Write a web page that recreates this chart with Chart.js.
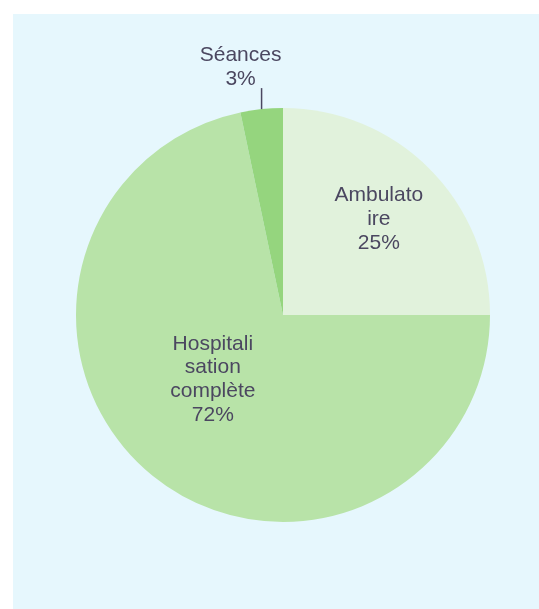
<!DOCTYPE html>
<html>
<head>
<meta charset="utf-8">
<script src="https://cdn.jsdelivr.net/npm/chart.js@4/dist/chart.umd.min.js"></script>
<style>
  html, body { margin: 0; padding: 0; background: #ffffff; }
  #panel {
    position: absolute; left: 13px; top: 14px;
    width: 526px; height: 595px;
    background: #e6f7fd;
  }
  #chart { display: block; }
</style>
</head>
<body>
<div id="panel"><canvas id="chart" width="526" height="595"></canvas></div>
<script>
// Data
const categories = ['Ambulatoire', 'Hospitalisation complète', 'Séances'];
const shares = [25, 71.7, 3.3];
const labelLines = [
  ['Ambulato', 'ire', '25%'],
  ['Hospitali', 'sation', 'complète', '72%'],
  ['Séances', '3%']
];
const sliceColors = ['#e1f2dc', '#b8e3a8', '#95d57e'];
const outsideLabel = [false, false, true];
const labelRadius = [0.655, 0.46, 1.0];
const labelAngleShift = [0, 8.4, 0]; // degrees

const textColor = '#4b4760';
const fontSpec = '21px "Liberation Sans", Arial, sans-serif';
const lineStep = 23.7;

// Draw slice labels, with a leader line for small slices
const sliceLabels = {
  id: 'sliceLabels',
  afterDatasetsDraw(chart) {
    const ctx = chart.ctx;
    const meta = chart.getDatasetMeta(0);
    ctx.save();
    ctx.font = fontSpec;
    ctx.fillStyle = textColor;
    ctx.strokeStyle = textColor;
    ctx.textAlign = 'center';
    ctx.textBaseline = 'middle';
    meta.data.forEach((arc, i) => {
      const mid = (arc.startAngle + arc.endAngle) / 2 + labelAngleShift[i] * Math.PI / 180;
      const lines = labelLines[i];
      if (outsideLabel[i]) {
        const r0 = arc.outerRadius;
        const x0 = arc.x + Math.cos(mid) * r0;
        const y0 = arc.y + Math.sin(mid) * r0;
        const y1 = y0 - 21;
        ctx.lineWidth = 1.5;
        ctx.beginPath();
        ctx.moveTo(x0, y0);
        ctx.lineTo(x0, y1);
        ctx.stroke();
        const tx = x0 - 21;
        const lastY = y1 - 9;
        lines.forEach((t, k) => {
          ctx.fillText(t, tx, lastY - (lines.length - 1 - k) * lineStep);
        });
      } else {
        const r = arc.outerRadius * labelRadius[i];
        const cx = arc.x + Math.cos(mid) * r;
        const cy = arc.y + Math.sin(mid) * r;
        const top = cy - (lines.length - 1) * lineStep / 2;
        lines.forEach((t, k) => ctx.fillText(t, cx, top + k * lineStep));
      }
    });
    ctx.restore();
  }
};

new Chart(document.getElementById('chart'), {
  type: 'pie',
  data: {
    labels: categories,
    datasets: [{
      data: shares,
      backgroundColor: sliceColors,
      borderWidth: 0
    }]
  },
  options: {
    responsive: false,
    animation: false,
    layout: { padding: { left: 63, right: 49, top: 94, bottom: 87 } },
    plugins: {
      legend: { display: false },
      tooltip: { enabled: false }
    }
  },
  plugins: [sliceLabels]
});
</script>
</body>
</html>
